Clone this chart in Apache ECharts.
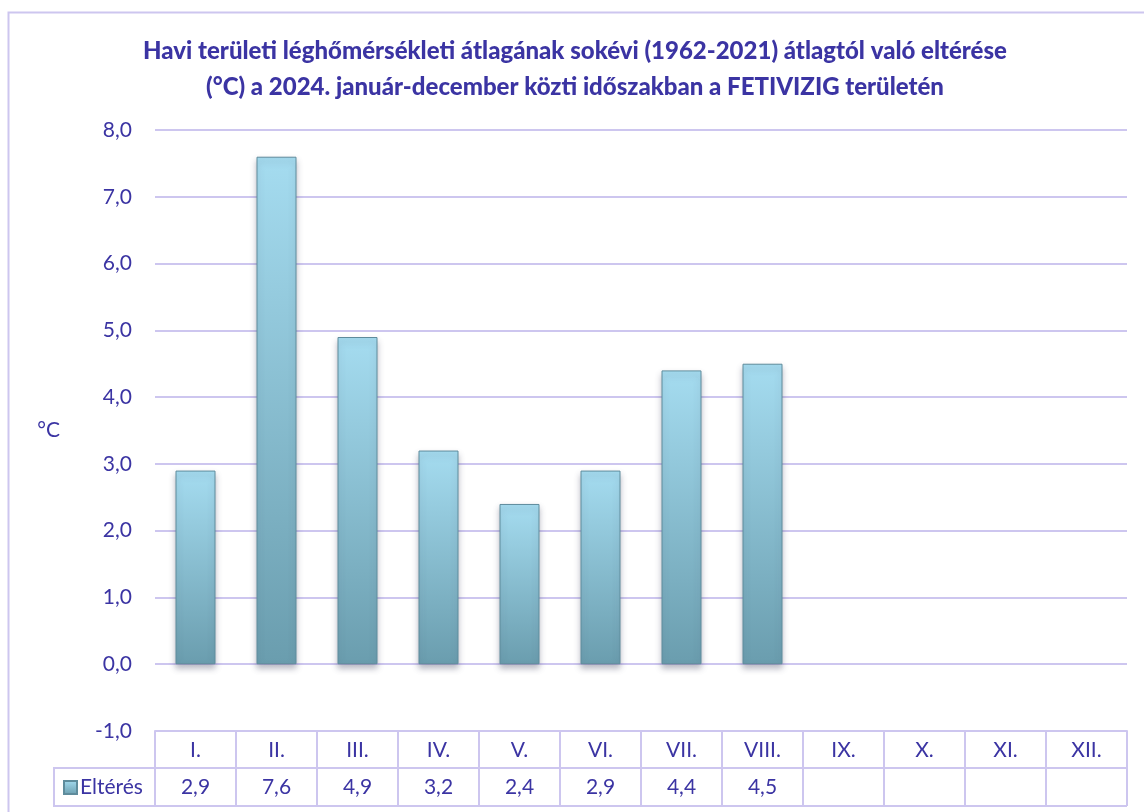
<!DOCTYPE html>
<html>
<head>
<meta charset="utf-8">
<script src="https://cdn.jsdelivr.net/npm/echarts@6/dist/echarts.min.js"></script>
<style>
  html, body { margin: 0; padding: 0; background: #fff; }
  #chart { width: 1144px; height: 812px; }
</style>
</head>
<body>
<div id="chart"></div>
<script>
const months = ['I.', 'II.', 'III.', 'IV.', 'V.', 'VI.', 'VII.', 'VIII.', 'IX.', 'X.', 'XI.', 'XII.']
const elteres = [2.9, 7.6, 4.9, 3.2, 2.4, 2.9, 4.4, 4.5, null, null, null, null]
const seriesName = 'Eltérés'
const yMin = -1
const yMax = 8

const textColor = '#3b34a3'
const lineColor = '#cdc6ef'
const font = 'Lato, "Noto Sans", sans-serif'

const fmt = v => (v == null ? '' : v.toFixed(1).replace('.', ','))

const chart = echarts.init(document.getElementById('chart'), null, { renderer: 'canvas' })

const option = {
  animation: false,
  backgroundColor: '#fff',
  title: {
    text: 'Havi területi léghőmérsékleti átlagának sokévi (1962-2021) átlagtól való eltérése\n(°C) a 2024. január-december közti időszakban a FETIVIZIG területén',
    left: 570,
    top: 28,
    textAlign: 'center',
    textStyle: {
      color: textColor,
      fontFamily: font,
      fontWeight: 900,
      fontSize: 24,
      lineHeight: 36
    }
  },
  legend: {
    data: [seriesName],
    left: 58,
    top: 772,
    itemWidth: 13,
    itemHeight: 13,
    itemGap: 4,
    icon: 'rect',
    textStyle: { color: textColor, fontFamily: font, fontSize: 21, padding: [0, 0, 0, -2] }
  },
  grid: { left: 155, right: 17, top: 130, bottom: 81 },
  xAxis: {
    type: 'category',
    data: months,
    axisLine: { onZero: false, lineStyle: { color: lineColor, width: 2 } },
    axisTick: { show: true, length: 75, lineStyle: { color: lineColor, width: 2 } },
    axisLabel: {
      margin: 1,
      interval: 0,
      formatter: (val, idx) => '{m|' + val + '}\n{v|' + fmt(elteres[idx]) + '}',
      rich: {
        m: { color: textColor, fontFamily: font, fontSize: 21, lineHeight: 37, height: 37 },
        v: { color: textColor, fontFamily: font, fontSize: 21, lineHeight: 37, height: 37 }
      }
    }
  },
  yAxis: {
    type: 'value',
    min: yMin,
    max: yMax,
    interval: 1,
    name: '°C',
    nameLocation: 'middle',
    nameRotate: 0,
    nameGap: 95,
    nameTextStyle: { color: textColor, fontFamily: font, fontSize: 21 },
    axisLine: { show: false },
    axisTick: { show: false },
    axisLabel: { color: textColor, fontFamily: font, fontSize: 21, margin: 23, formatter: v => fmt(v) },
    splitLine: { lineStyle: { color: lineColor, width: 2 } }
  },
  series: [
    {
      name: seriesName,
      type: 'bar',
      data: elteres,
      barWidth: 40,
      itemStyle: {
        color: new echarts.graphic.LinearGradient(0, 0, 0, 1, [
          { offset: 0, color: '#a5dcf0' },
          { offset: 1, color: '#6a9dae' }
        ]),
        borderColor: '#5f8c9c',
        borderWidth: 1,
        shadowColor: 'rgba(60,60,90,0.35)',
        shadowBlur: 6,
        shadowOffsetY: 4
      }
    }
  ],
  graphic: [
    {
      type: 'rect',
      shape: { x: 8.5, y: 12.5, width: 1140, height: 820 },
      style: { fill: null, stroke: lineColor, lineWidth: 2 },
      silent: true
    },
    {
      type: 'rect',
      shape: { x: 54, y: 768, width: 101, height: 38 },
      style: { fill: null, stroke: lineColor, lineWidth: 2 },
      silent: true
    },
    {
      type: 'line',
      shape: { x1: 155, y1: 768, x2: 1127, y2: 768 },
      style: { stroke: lineColor, lineWidth: 2 },
      silent: true
    },
    {
      type: 'line',
      shape: { x1: 155, y1: 806, x2: 1127, y2: 806 },
      style: { stroke: lineColor, lineWidth: 2 },
      silent: true
    }
  ]
}

chart.setOption(option)
</script>
</body>
</html>
